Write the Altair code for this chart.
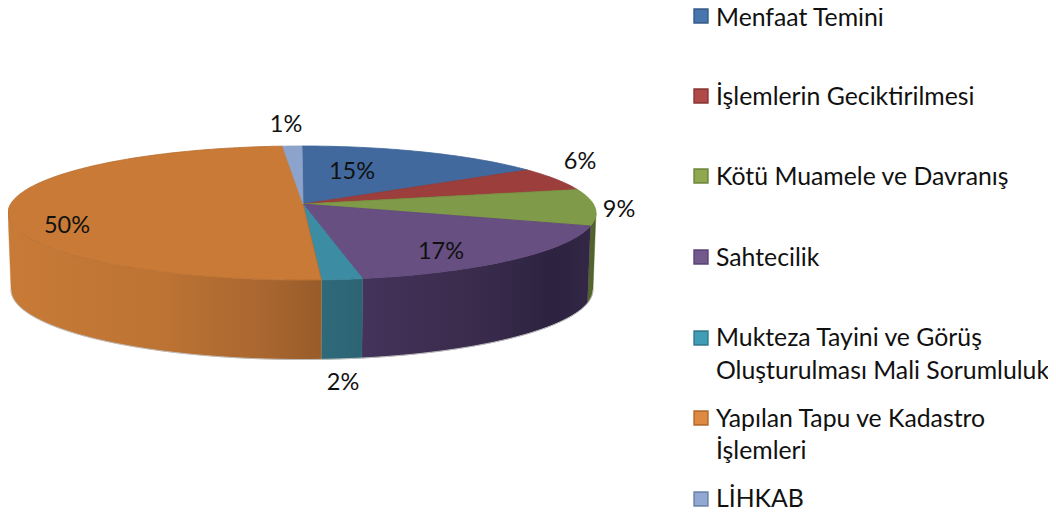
import math
import altair as alt
import pandas as pd

# Data
categories = ["Menfaat Temini", "İşlemlerin Geciktirilmesi", "Kötü Muamele ve Davranış", "Sahtecilik",
              "Mukteza Tayini ve Görüş Oluşturulması Mali Sorumluluk", "Yapılan Tapu ve Kadastro İşlemleri", "LİHKAB"]
percent_labels = ["15%", "6%", "9%", "17%", "2%", "50%", "1%"]
# share of the projected rim occupied by each slice (perspective shrinks the far ones)
rim_share = [13.9, 5.4, 8.8, 18.6, 2.25, 50.0, 1.05]

# Styles
top_fill = ["#41699E", "#9C3E3C", "#7F9A48", "#674F82", "#3C8DA3", "#C97A36", "#8CA3CC"]
top_line = ["#3D6394", "#8F3A38", "#76903F", "#5F4878", "#38849A", "#B56C2E", "#8FA0C0"]
swatch_fill = ["#4775AE", "#B04A48", "#8EA850", "#74598F", "#3F9DB5", "#DF8A42", "#90A8D2"]
swatch_line = ["#385D8A", "#8C3836", "#71893F", "#5C4776", "#357D91", "#B66D31", "#6F86AE"]
side_stops = {
    2: [(0, "#55692F"), (1, "#4E6029")],
    3: [(0, "#44335A"), (0.5, "#3A2B4C"), (0.85, "#2C2340"), (1, "#332745")],
    4: [(0, "#2F6A7A"), (1, "#2D6474")],
    5: [(0, "#C87B37"), (0.5, "#BC7333"), (0.8, "#AA6730"), (1, "#985C2A")],
}

# Layout in picture pixels
CX, TOP_CY, TOP_RX, TOP_RY = 302.0, 213.0, 294.0, 67.0
BOT_CY, BOT_RX, BOT_RY = 289.5, 291.0, 70.0
APEX = (303.0, 204.0)
label_xy = [(352, 179), (580, 169), (619, 217), (441, 259), (343, 390), (67, 233), (286, 132)]
swatch_y = [16, 96, 176, 257, 338, 418, 499]
legend_lines = [
    ("Menfaat Temini", 26), ("İşlemlerin Geciktirilmesi", 105), ("Kötü Muamele ve Davranış", 185),
    ("Sahtecilik", 266), ("Mukteza Tayini ve Görüş", 346), ("Oluşturulması Mali Sorumluluk", 379),
    ("Yapılan Tapu ve Kadastro", 427), ("İşlemleri", 459), ("LİHKAB", 507),
]

X = alt.X("x:Q", axis=None, scale=alt.Scale(domain=[8, 1048], nice=False, zero=False))
Y = alt.Y("y:Q", axis=None, scale=alt.Scale(domain=[514, 8], nice=False, zero=False))


def top_pt(t):
    r = math.radians(t)
    return CX + TOP_RX * math.sin(r), TOP_CY - TOP_RY * math.cos(r)


def bot_pt(t):
    r = math.radians(t)
    return CX + BOT_RX * math.sin(r), BOT_CY - BOT_RY * math.cos(r)


def arc(fn, a, b):
    n = max(2, int(abs(b - a)) + 2)
    return [fn(a + (b - a) * k / (n - 1)) for k in range(n)]


def poly(points, fill, stroke, sw=0.8):
    df = pd.DataFrame(points, columns=["x", "y"])
    df["i"] = range(len(df))
    return alt.Chart(df).mark_line(fill=fill, stroke=stroke, strokeWidth=sw, interpolate="linear").encode(
        x=X, y=Y, order=alt.Order("i:Q"))


total = sum(rim_share)
edges = [0.0]
for s in rim_share:
    edges.append(edges[-1] + s / total * 360)

layers = []
# side walls
for k, stops in side_stops.items():
    a, b = max(edges[k], 90), min(edges[k + 1], 270)
    pts = arc(top_pt, a, b) + arc(bot_pt, b, a)
    pts.append(pts[0])
    grad = alt.Gradient(gradient="linear", x1=0, x2=1, y1=0, y2=0,
                        stops=[alt.GradientStop(offset=o, color=c) for o, c in stops])
    layers.append(poly(pts, grad, stops[0][1], 0.4))
# faint outline of the lower rim
layers.append(alt.Chart(pd.DataFrame(
    [dict(x=p[0], y=p[1], i=j) for j, p in enumerate(arc(bot_pt, 90, 270))]
)).mark_line(stroke="#BDBDBD", strokeWidth=1).encode(x=X, y=Y, order=alt.Order("i:Q")))
# top faces
for k in range(len(rim_share)):
    pts = [APEX] + arc(top_pt, edges[k], edges[k + 1]) + [APEX]
    layers.append(poly(pts, top_fill[k], top_line[k]))

# percent labels
lab = pd.DataFrame({"x": [p[0] for p in label_xy], "y": [p[1] for p in label_xy], "t": percent_labels})
layers.append(alt.Chart(lab).mark_text(font="Lato", fontSize=23.5, align="center", baseline="alphabetic",
                                       color="#111111").encode(x=X, y=Y, text="t:N"))
# legend swatches
sw = pd.DataFrame({"x": [701] * 7, "y": swatch_y, "f": swatch_fill, "s": swatch_line, "c": categories})
layers.append(alt.Chart(sw).mark_square(size=190, opacity=1, strokeWidth=1.6).encode(
    x=X, y=Y,
    fill=alt.Fill("f:N", scale=None), stroke=alt.Stroke("s:N", scale=None)))
# legend text
leg = pd.DataFrame({"x": [716] * len(legend_lines), "y": [l[1] for l in legend_lines], "t": [l[0] for l in legend_lines]})
layers.append(alt.Chart(leg).mark_text(font="Lato", fontSize=24.8, align="left", baseline="alphabetic",
                                       color="#111111").encode(x=X, y=Y, text="t:N"))

chart = alt.layer(*layers).properties(
    width=1040, height=506, padding=0, background="white",
    autosize=alt.AutoSizeParams(type="none"),
).configure_view(stroke=None)

chart.save("out.html", embed_options={"renderer": "svg", "actions": False})
